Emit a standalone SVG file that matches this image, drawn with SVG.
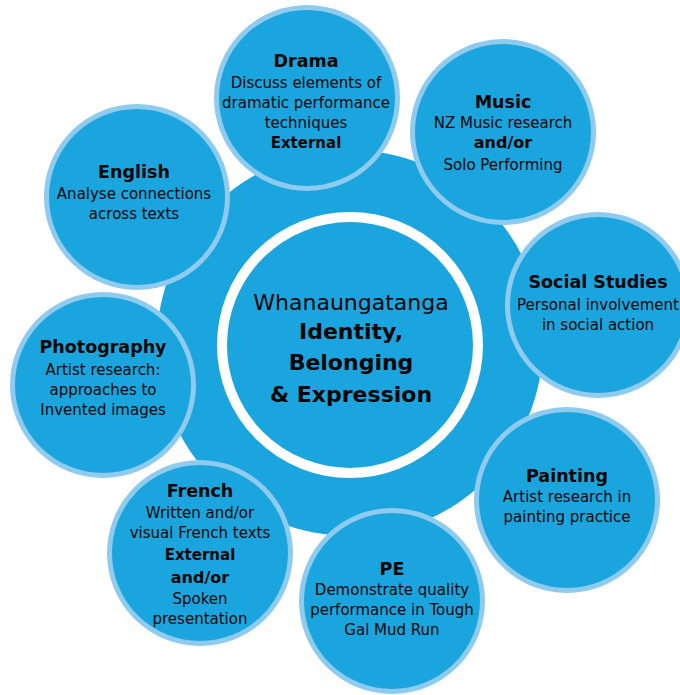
<svg xmlns="http://www.w3.org/2000/svg" width="680" height="695" viewBox="0 0 680 695">
<style>
  .bg { fill: #ffffff; }
  .hub { fill: #1ba5de; }
  .ring { fill: #1ba5de; stroke: #ffffff; stroke-width: 10; }
  .node { fill: #1ba5de; stroke: #8fcbee; stroke-width: 5; }
  text { font-family: "DejaVu Sans", Verdana, sans-serif; fill: #050505; text-anchor: middle; }
  .t { font-size: 17.5px; font-weight: bold; }
  .d { font-size: 15px; }
  .b { font-size: 15px; font-weight: bold; }
  .ao { font-size: 16px; font-weight: bold; }
  .c { font-size: 22px; }
  .cb { font-size: 22px; font-weight: bold; }
</style>
<rect class="bg" x="0" y="0" width="680" height="695"/>
<g id="hub">
  <circle class="hub" cx="350" cy="343" r="193"/>
  <circle class="ring" cx="350" cy="345" r="128"/>
  <text class="c" x="351" y="310">Whanaungatanga</text>
  <text class="cb" x="351" y="339">Identity,</text>
  <text class="cb" x="351" y="370">Belonging</text>
  <text class="cb" x="351" y="402">&amp; Expression</text>
</g>
<g id="connectors"></g>
<g id="drama">
  <circle class="node" cx="307" cy="98" r="90.5"/>
  <text class="t" x="306" y="67">Drama</text>
  <text class="d" x="306" y="88">Discuss elements of</text>
  <text class="d" x="306" y="108">dramatic performance</text>
  <text class="d" x="306" y="128">techniques</text>
  <text class="b" x="306" y="148">External</text>
</g>
<g id="music">
  <circle class="node" cx="503" cy="132" r="90.5"/>
  <text class="t" x="503" y="108">Music</text>
  <text class="d" x="503" y="128">NZ Music research</text>
  <text class="ao" x="503" y="148">and/or</text>
  <text class="d" x="503" y="170">Solo Performing</text>
</g>
<g id="english">
  <circle class="node" cx="137" cy="197" r="90.5"/>
  <text class="t" x="134" y="178">English</text>
  <text class="d" x="134" y="199">Analyse connections</text>
  <text class="d" x="134" y="219">across texts</text>
</g>
<g id="social-studies">
  <circle class="node" cx="598" cy="305" r="90.5"/>
  <text class="t" x="598" y="288">Social Studies</text>
  <text class="d" x="598" y="310">Personal involvement</text>
  <text class="d" x="598" y="330">in social action</text>
</g>
<g id="photography">
  <circle class="node" cx="103" cy="385" r="90.5"/>
  <text class="t" x="103" y="353">Photography</text>
  <text class="d" x="103" y="375">Artist research:</text>
  <text class="d" x="103" y="395">approaches to</text>
  <text class="d" x="103" y="415">Invented images</text>
</g>
<g id="painting">
  <circle class="node" cx="567" cy="500" r="90.5"/>
  <text class="t" x="567" y="482">Painting</text>
  <text class="d" x="567" y="502">Artist research in</text>
  <text class="d" x="567" y="522">painting practice</text>
</g>
<g id="french">
  <circle class="node" cx="200" cy="553" r="90.5"/>
  <text class="t" x="200" y="497">French</text>
  <text class="d" x="200" y="518">Written and/or</text>
  <text class="d" x="200" y="538">visual French texts</text>
  <text class="b" x="200" y="560">External</text>
  <text class="ao" x="200" y="583">and/or</text>
  <text class="d" x="200" y="604">Spoken</text>
  <text class="d" x="200" y="624">presentation</text>
</g>
<g id="pe">
  <circle class="node" cx="392" cy="601" r="90.5"/>
  <text class="t" x="392" y="575">PE</text>
  <text class="d" x="392" y="595">Demonstrate quality</text>
  <text class="d" x="392" y="615">performance in Tough</text>
  <text class="d" x="392" y="635">Gal Mud Run</text>
</g>
</svg>
